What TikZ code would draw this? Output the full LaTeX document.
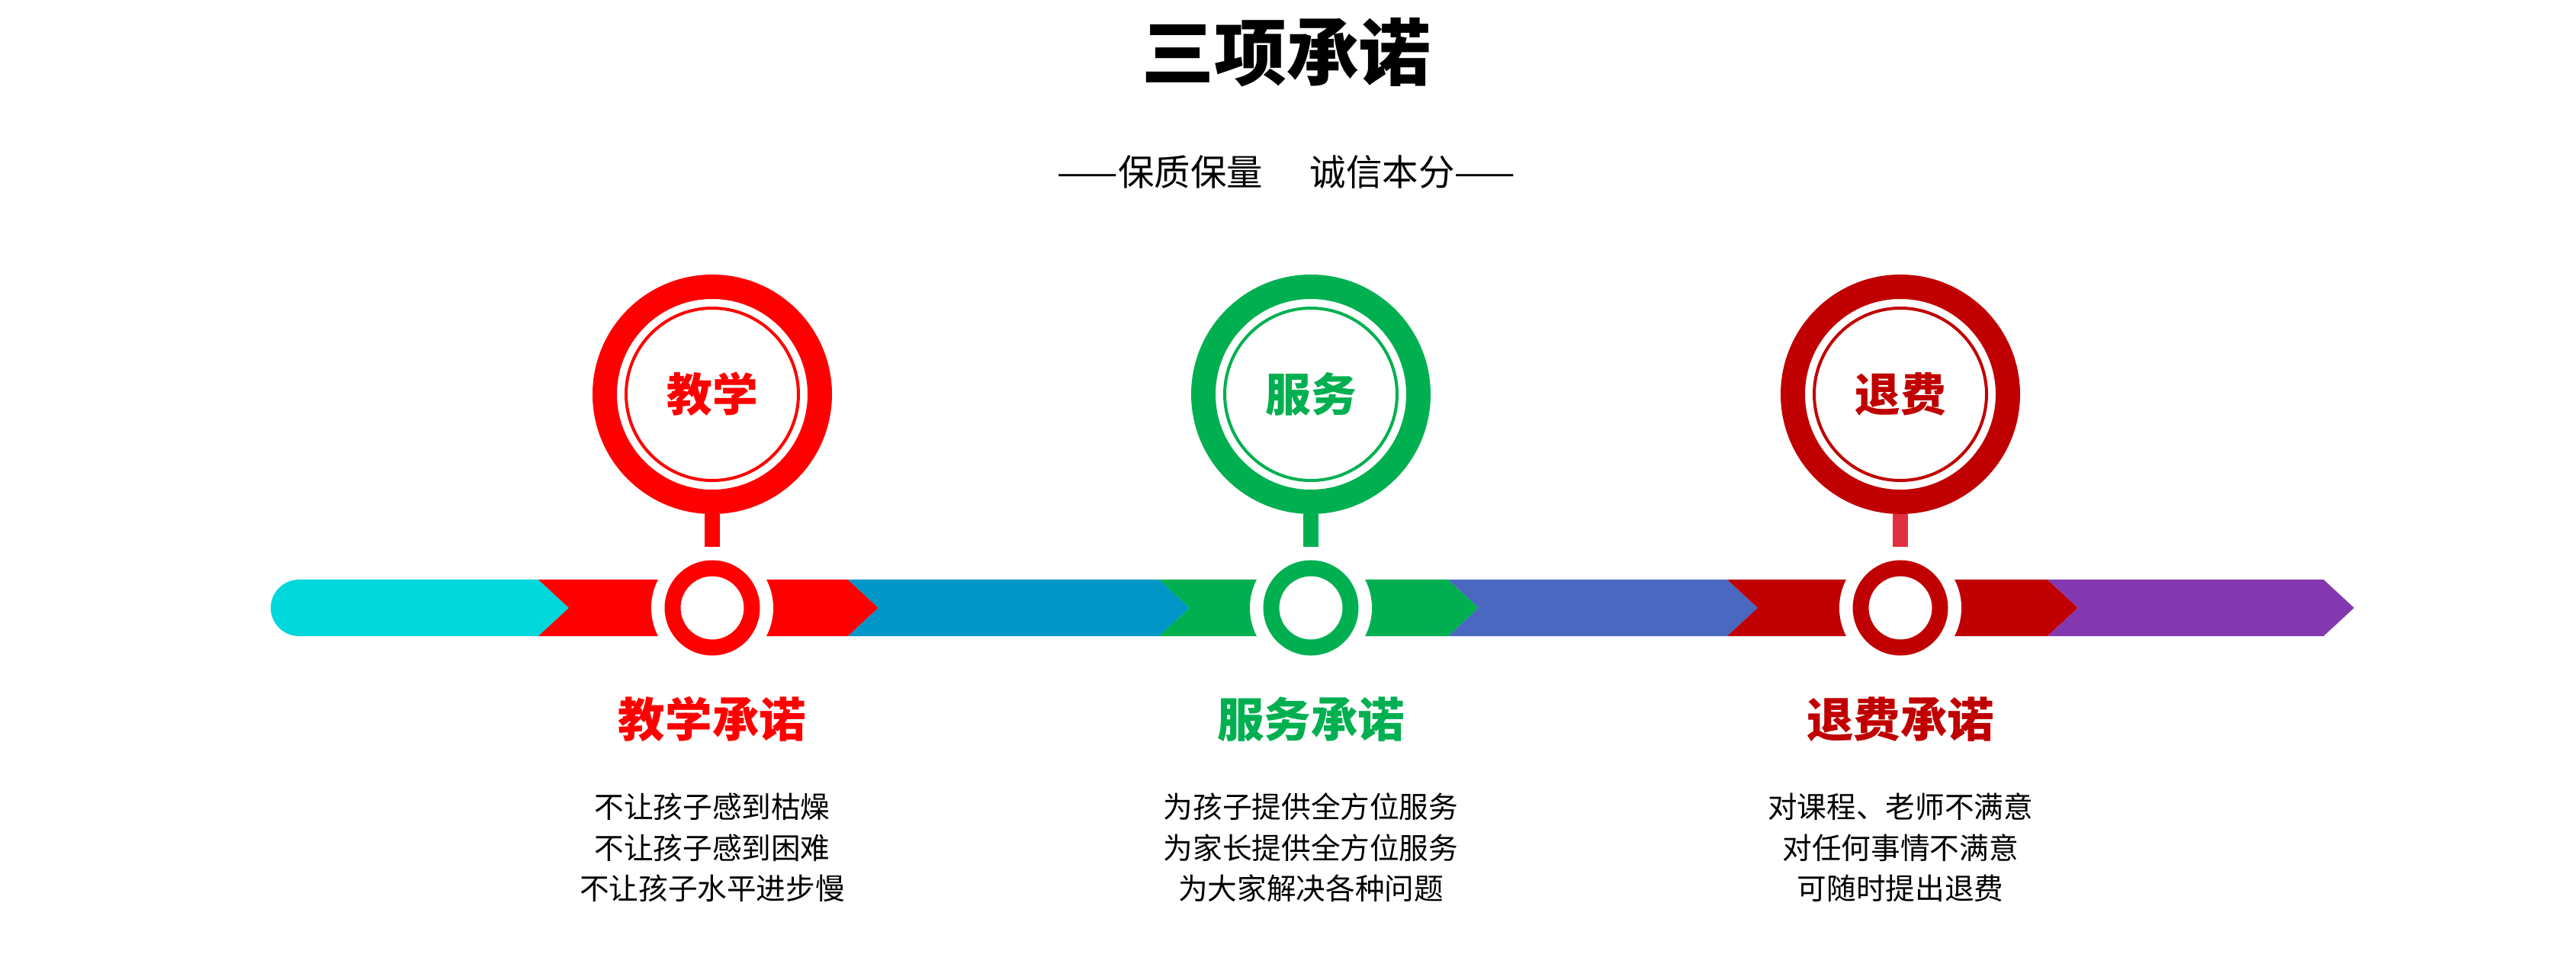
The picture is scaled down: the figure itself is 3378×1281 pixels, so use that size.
\documentclass[tikz,border=0pt]{standalone}
\usepackage{fontspec}
\setmainfont{Noto Sans CJK SC}
\usetikzlibrary{positioning}
\definecolor{cyanbar}{HTML}{00D8DC}
\definecolor{bluebar}{HTML}{0096C8}
\definecolor{indigobar}{HTML}{4A68C0}
\definecolor{purplebar}{HTML}{8438B0}
\definecolor{redc}{HTML}{FF0000}
\definecolor{greenc}{HTML}{00B050}
\definecolor{darkredc}{HTML}{C00000}
\definecolor{stemthree}{HTML}{E03040}
\newcommand{\chev}[3]{\fill[#1] (#2,760) -- (#3,760) -- (#3+40,797) -- (#3,834) -- (#2,834) -- (#2+40,797) -- cycle;}
\begin{document}
\begin{tikzpicture}[x=0.2mm, y=-0.2mm,
    title/.style={font=\fontsize{54}{60}\selectfont\bfseries},
    subtitle/.style={font=\fontsize{27}{30}\selectfont},
    head/.style={font=\fontsize{35}{40}\selectfont\bfseries},
    body/.style={font=\fontsize{22}{30.5}\selectfont, align=center},
    biglabel/.style={font=\fontsize{34}{40}\selectfont\bfseries}
  ]
  \useasboundingbox (0,0) rectangle (3378,1281);
  \node[title] (title) at (1687,69) {三项承诺};
  \node[subtitle] (subtitle) at (1687,226) {——保质保量\hspace{1.3em}诚信本分——};
  % bar
  \fill[cyanbar] (392,760) -- (706,760) -- (746,797) -- (706,834) -- (392,834) arc (90:270:37) -- cycle;
  \chev{redc}{706}{1112}
  \chev{bluebar}{1112}{1520}
  \chev{greenc}{1520}{1899}
  \chev{indigobar}{1899}{2265}
  \chev{darkredc}{2265}{2685}
  \chev{purplebar}{2685}{3047}
  % promises
  \foreach \x/\c/\s/\name/\lab/\txt in {
      934/redc/redc/teach/教学/{不让孩子感到枯燥\\不让孩子感到困难\\不让孩子水平进步慢},
      1719/greenc/greenc/serve/服务/{为孩子提供全方位服务\\为家长提供全方位服务\\为大家解决各种问题},
      2492/darkredc/stemthree/refund/退费/{对课程、老师不满意\\对任何事情不满意\\可随时提出退费}} {
    \fill[white] (\x,797) circle (80);
    \draw[\c, line width=4.2mm] (\x,797) circle (52);
    \fill[\s] (\x-10,674) rectangle (\x+10,717);
    \draw[\c, line width=6.4mm] (\x,517) circle (141);
    \draw[\c, line width=0.8mm] (\x,517) circle (113);
    \node[biglabel, text=\c] (\name-circ) at (\x,517) {\lab};
    \node[head, text=\c] (\name-head) at (\x,943) {\lab 承诺};
    \node[body, below=11mm of \name-head] (\name-body) {\txt};
  }
\end{tikzpicture}
\end{document}
